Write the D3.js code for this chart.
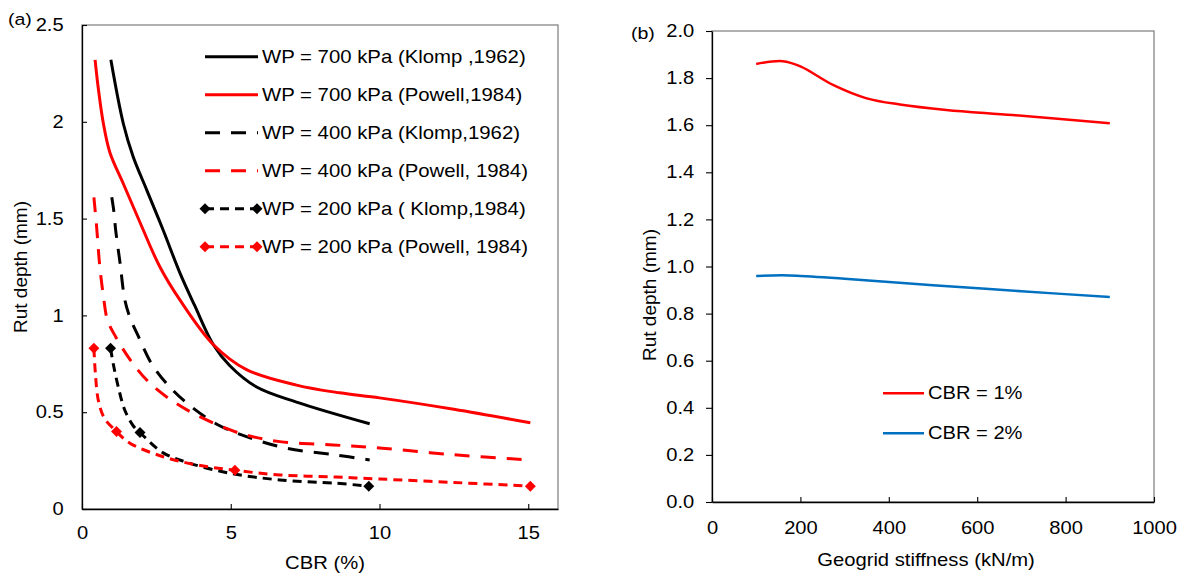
<!DOCTYPE html>
<html>
<head>
	<title>Rut depth</title>
	<meta charset="utf-8">
	<script src="https://cdnjs.cloudflare.com/ajax/libs/d3/7.8.5/d3.min.js"></script>
	<style>
		body { margin: 0; background: #fff; }
		text { font-family: 'Liberation Sans', Arial, sans-serif; fill: #000; }
	</style>
</head>
<body>
	<div id="chartDiv"></div>
	<script>

		// ---- panel (a) data : [CBR %, rut depth mm]
		const wp700Klomp = [[0.97,2.32],[1.39,1.99],[1.72,1.82],[2.17,1.65],[2.73,1.44],[3.29,1.22],[3.79,1.05],[4.41,0.85],[4.97,0.74],[5.87,0.63],[7.21,0.552],[9.67,0.44]];
		const wp700Powell = [[0.44,2.32],[0.55,2.17],[0.72,1.99],[0.94,1.84],[1.39,1.68],[1.95,1.48],[2.62,1.25],[3.29,1.08],[4.41,0.85],[5.53,0.72],[7.21,0.64],[8.66,0.6],[10,0.574],[12.5,0.515],[15.07,0.445]];
		const wp400Klomp = [[1.0,1.61],[1.06,1.55],[1.14,1.43],[1.28,1.27],[1.44,1.08],[1.61,0.99],[1.9,0.89],[2.34,0.75],[2.95,0.63],[3.7,0.525],[4.63,0.43],[5.53,0.374],[6.87,0.314],[8.55,0.279],[9.67,0.253]];
		const wp400Powell = [[0.40,1.61],[0.49,1.46],[0.60,1.25],[0.72,1.10],[0.85,0.98],[1.13,0.89],[1.67,0.76],[2.28,0.65],[3.07,0.555],[3.96,0.477],[5.31,0.391],[6.65,0.348],[8.44,0.331],[10,0.315],[12.5,0.28],[15.07,0.253]];
		const wp200Klomp = [[0.96,0.83],[1.05,0.75],[1.22,0.63],[1.44,0.51],[1.72,0.43],[1.95,0.395],[2.73,0.29],[3.63,0.236],[4.97,0.185],[6.65,0.15],[8.55,0.133],[9.64,0.118]];
		const wp200KlompMarks = [[0.96,0.83],[1.95,0.395],[9.64,0.118]];
		const wp200Powell = [[0.40,0.83],[0.45,0.70],[0.55,0.56],[0.75,0.47],[1.16,0.40],[1.61,0.34],[2.73,0.27],[3.85,0.228],[5.14,0.20],[6.65,0.176],[8.55,0.165],[10,0.155],[12.5,0.137],[15.07,0.118]];
		const wp200PowellMarks = [[0.40,0.83],[1.16,0.40],[5.14,0.20],[15.07,0.118]];

		const legendA = ['WP = 700 kPa (Klomp ,1962)', 'WP = 700 kPa (Powell,1984)', 'WP = 400 kPa (Klomp,1962)',
			'WP = 400 kPa (Powell, 1984)', 'WP = 200 kPa ( Klomp,1984)', 'WP = 200 kPa (Powell, 1984)'];
		const xTicksA = [0, 5, 10, 15];
		const yTicksA = [0, 0.5, 1, 1.5, 2, 2.5];

		// ---- panel (b) data : [geogrid stiffness kN/m, rut depth mm]
		const cbr1 = [[100,1.86],[160,1.872],[200,1.85],[275,1.77],[350,1.714],[425,1.688],[530,1.665],[680,1.643],[900,1.608]];
		const cbr2 = [[100,0.96],[175,0.962],[300,0.948],[500,0.92],[700,0.895],[900,0.87]];
		const legendB = ['CBR = 1%', 'CBR = 2%'];
		const xTicksB = [0, 200, 400, 600, 800, 1000];
		const yTicksB = [0, 0.2, 0.4, 0.6, 0.8, 1.0, 1.2, 1.4, 1.6, 1.8, 2.0];

		const SX = 1.15; // horizontal text stretch of the source picture
		const RED = '#ff0000', BLUE = '#0070c0';

		const svg = d3.select('#chartDiv').append('svg')
			.attr('width', 1184)
			.attr('height', 577);

		const label = (x, y, str, size, anchor) => svg.append('text')
			.attr('transform', `translate(${x},${y}) scale(${SX},1)`)
			.attr('text-anchor', anchor || 'start')
			.style('font-size', size + 'px')
			.text(str);

		//Setup Scales
		const xA = d3.scaleLinear().domain([0, 16]).range([82, 558]);
		const yA = d3.scaleLinear().domain([0, 2.5]).range([509, 25]);
		const xB = d3.scaleLinear().domain([0, 1000]).range([712, 1154]);
		const yB = d3.scaleLinear().domain([0, 2]).range([502, 31]);

		// frames (top / right grey)
		const frame = (xs, ys) => svg.append('rect')
			.attr('x', xs.range()[0]).attr('y', ys.range()[1])
			.attr('width', xs.range()[1] - xs.range()[0])
			.attr('height', ys.range()[0] - ys.range()[1])
			.attr('fill', 'none').attr('stroke', '#868686').attr('stroke-width', 1.3);
		frame(xA, yA);
		frame(xB, yB);

		const styleAxis = g => {
			g.select('.domain').attr('stroke', '#000').attr('stroke-width', 1.3);
			g.selectAll('.tick line').attr('stroke', '#000').attr('stroke-width', 1.1);
			g.selectAll('.tick text')
				.attr('transform', `scale(${SX},1)`)
				.style('font-size', '17.5px')
				.attr('fill', '#000');
			g.attr('font-family', null).attr('font-size', null);
		};

		//Build Axis elements
		svg.append('g').attr('transform', `translate(0,${yA(0)})`)
			.call(d3.axisBottom(xA).tickValues(xTicksA).tickFormat(d3.format('d')).tickSizeInner(-5).tickSizeOuter(0).tickPadding(18))
			.call(styleAxis);
		svg.append('g').attr('transform', `translate(${xA(0)},0)`)
			.call(d3.axisLeft(yA).tickValues(yTicksA).tickFormat(d3.format('~g')).tickSizeInner(-5).tickSizeOuter(0).tickPadding(16))
			.call(styleAxis);
		svg.append('g').attr('transform', `translate(0,${yB(0)})`)
			.call(d3.axisBottom(xB).tickValues(xTicksB).tickFormat(d3.format('d')).tickSizeInner(-5).tickSizeOuter(0).tickPadding(20))
			.call(styleAxis);
		svg.append('g').attr('transform', `translate(${xB(0)},0)`)
			.call(d3.axisLeft(yB).tickValues(yTicksB).tickFormat(d3.format('.1f')).tickSizeInner(6).tickSizeOuter(0).tickPadding(9.5))
			.call(styleAxis);

		// axis labels
		label(325, 569, 'CBR (%)', 17.6, 'middle');
		label(926, 566, 'Geogrid stiffness (kN/m)', 17.6, 'middle');
		svg.append('text')
			.attr('transform', `translate(27,267) rotate(-90)`)
			.attr('text-anchor', 'middle').style('font-size', '19px')
			.text('Rut depth (mm)');
		svg.append('text')
			.attr('transform', `translate(656,295) rotate(-90)`)
			.attr('text-anchor', 'middle').style('font-size', '19px')
			.text('Rut depth (mm)');
		label(8, 25, '(a)', 17);
		label(631, 39, '(b)', 17);

		// define the lines
		const lineA = d3.line().x(d => xA(d[0])).y(d => yA(d[1])).curve(d3.curveCatmullRom);
		const lineB = d3.line().x(d => xB(d[0])).y(d => yB(d[1])).curve(d3.curveCatmullRom);

		const seriesA = [
			{ data: wp700Klomp, color: '#000', dash: null },
			{ data: wp700Powell, color: RED, dash: null },
			{ data: wp400Klomp, color: '#000', dash: '15,11' },
			{ data: wp400Powell, color: RED, dash: '15,11' },
			{ data: wp200Klomp, color: '#000', dash: '9,6', marks: wp200KlompMarks },
			{ data: wp200Powell, color: RED, dash: '9,6', marks: wp200PowellMarks }
		];

		const diamond = d3.symbol(d3.symbolSquare, 60);

		seriesA.forEach(s => {
			svg.append('path')
				.attr('d', lineA(s.data))
				.attr('fill', 'none')
				.attr('stroke', s.color)
				.attr('stroke-width', 3)
				.attr('stroke-dasharray', s.dash);
			if (s.marks) {
				svg.selectAll(null).data(s.marks).enter().append('path')
					.attr('d', diamond)
					.attr('transform', d => `translate(${xA(d[0])},${yA(d[1])}) rotate(45)`)
					.attr('fill', s.color);
			}
		});

		// legend (a)
		seriesA.forEach((s, i) => {
			const y = 56.7 + i * 38;
			svg.append('line')
				.attr('x1', 205).attr('x2', 258).attr('y1', y).attr('y2', y)
				.attr('stroke', s.color).attr('stroke-width', 3)
				.attr('stroke-dasharray', s.dash);
			if (s.marks) {
				[205, 257].forEach(x => svg.append('path')
					.attr('d', diamond)
					.attr('transform', `translate(${x},${y}) rotate(45)`)
					.attr('fill', s.color));
			}
			label(262, y + 6, legendA[i], 17.7);
		});

		// panel (b)
		const seriesB = [
			{ data: cbr1, color: RED },
			{ data: cbr2, color: BLUE }
		];
		seriesB.forEach((s, i) => {
			svg.append('path')
				.attr('d', lineB(s.data))
				.attr('fill', 'none')
				.attr('stroke', s.color)
				.attr('stroke-width', 2.5);
			const y = 393.3 + i * 40;
			svg.append('line')
				.attr('x1', 883).attr('x2', 924).attr('y1', y).attr('y2', y)
				.attr('stroke', s.color).attr('stroke-width', 2.5);
			label(928, y + 6, legendB[i], 17.5);
		});
	</script>
</body>
</html>
